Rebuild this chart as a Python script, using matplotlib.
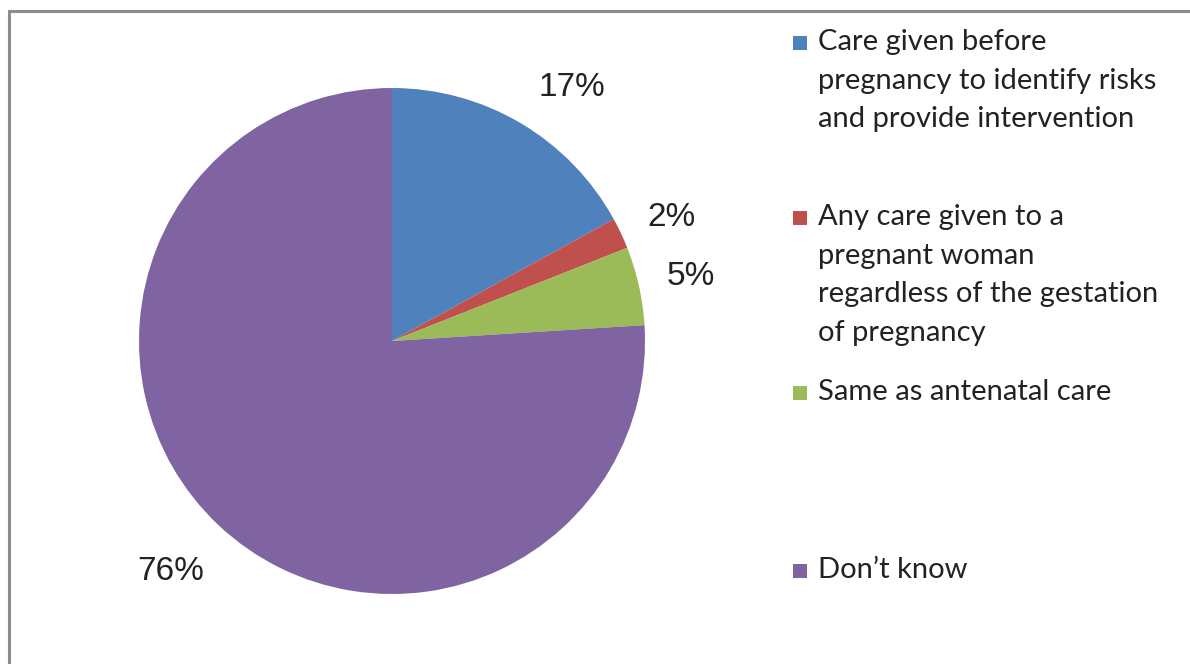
import matplotlib.pyplot as plt
from matplotlib.patches import Rectangle

labels = ['Care given before\npregnancy to identify risks\nand provide intervention',
          'Any care given to a\npregnant woman\nregardless of the gestation\nof pregnancy',
          'Same as antenatal care',
          'Don\u2019t know']
values = [17, 2, 5, 76]
colors = ['#4F81BD', '#C0504D', '#9BBB59', '#8064A2']

W, H = 1190, 664
fig = plt.figure(figsize=(W / 100, H / 100), dpi=100)

# pie axes: centre (392, 341) px, radius ~253 px
r = 253
ax = fig.add_axes([(392 - r) / W, (H - 341 - r) / H, 2 * r / W, 2 * r / H])
wedges, texts, autotexts = ax.pie(values, colors=colors, startangle=90, counterclock=False,
                                  autopct=lambda p: f'{p:.0f}%', pctdistance=1.22,
                                  wedgeprops=dict(linewidth=0))
# small nudges (in axes data units) so labels sit like Excel's placement
nudges = [(0.09, -0.05), (0.0, -0.03), (-0.01, -0.01), (-0.04, -0.02)]
for t, (dx, dy) in zip(autotexts, nudges):
    x, y = t.get_position()
    t.set_position((x + dx, y + dy))
    t.set_fontsize(24)
    t.set_fontfamily('Liberation Sans')
    t.set_color('#222222')
ax.set_xlim(-1, 1)
ax.set_ylim(-1, 1)
ax.set_aspect('equal')

# legend drawn by hand (Excel-style uneven spacing)
entry_y = [43, 218, 393, 571]
for lab, col, y in zip(labels, colors, entry_y):
    fig.add_artist(Rectangle((793 / W, (H - y - 7) / H), 14 / W, 14 / H,
                             transform=fig.transFigure, facecolor=col, edgecolor='none'))
    fig.text(818 / W, (H - y + 14) / H, lab, fontsize=21, family='Lato',
             color='#222222', va='top', ha='left', linespacing=1.6)

# frame around chart area
fig.add_artist(Rectangle((9 / W, -0.1), 1.0, (H - 11) / H + 0.1, transform=fig.transFigure,
                         fill=False, edgecolor='#8c8c8c', linewidth=2.2))

fig.savefig('out.png', dpi=100)
